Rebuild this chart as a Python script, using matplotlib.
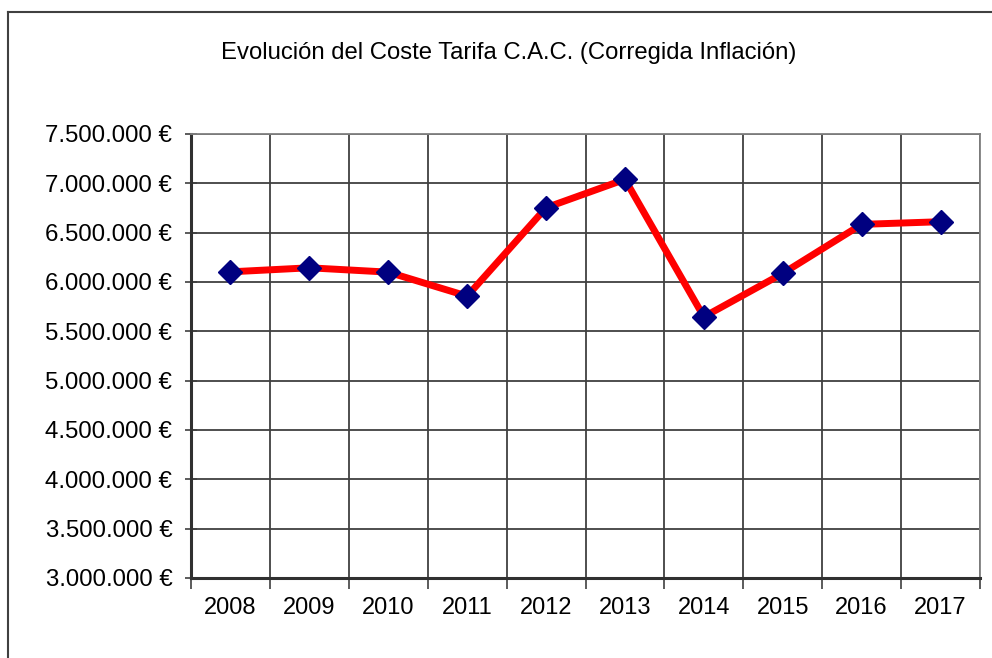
import matplotlib
matplotlib.use("Agg")
import matplotlib.pyplot as plt
from matplotlib.ticker import FuncFormatter, FixedLocator
from matplotlib.lines import Line2D

years = ["2008", "2009", "2010", "2011", "2012", "2013", "2014", "2015", "2016", "2017"]
costs = [6103000, 6144000, 6100000, 5857000, 6753000, 7040000, 5647000, 6087000, 6584000, 6611000]
title = "Evolución del Coste Tarifa C.A.C. (Corregida Inflación)"

plt.rcParams['font.family'] = ['Liberation Sans', 'DejaVu Sans']

fig = plt.figure(figsize=(9.92, 6.58), dpi=100)
ax = fig.add_axes([191/992, 1-578/658, (980-191)/992, (578-134)/658])

x = list(range(len(years)))
ax.plot(x, costs, color='#ff0000', linewidth=5, marker='D', markersize=12,
        markerfacecolor='#000080', markeredgecolor='#000080', zorder=3)

ax.set_xlim(-0.5, len(years) - 0.5)
ax.set_ylim(3000000, 7500000)
ax.set_yticks([3000000 + 500000 * i for i in range(10)])

def fmt(v, pos):
    return f"{int(v):,}".replace(",", ".") + " €"
ax.yaxis.set_major_formatter(FuncFormatter(fmt))

ax.set_xticks(x)
ax.set_xticklabels(years)
ax.xaxis.set_minor_locator(FixedLocator([i - 0.5 for i in range(len(years) + 1)]))
ax.tick_params(axis='x', which='major', length=0, pad=14, labelsize=17, colors='#000000')
ax.tick_params(axis='x', which='minor', length=8, width=1.2, color='#404040', direction='out')
ax.tick_params(axis='y', which='major', length=9, width=1.2, color='#404040', direction='inout',
               labelsize=17.3, pad=9)

ax.grid(True, which='minor', axis='x', color='#404040', linewidth=1.3)
ax.grid(True, which='major', axis='y', color='#404040', linewidth=1.3)
ax.set_axisbelow(True)

for s in ['top', 'right']:
    ax.spines[s].set_color('#808080')
    ax.spines[s].set_linewidth(1.3)
ax.spines['left'].set_color('#303030')
ax.spines['left'].set_linewidth(2.2)
ax.spines['bottom'].set_color('#303030')
ax.spines['bottom'].set_linewidth(2.2)

fig.text(509/992, 1-53/658, title, ha='center', va='center', fontsize=17.2, color='#000000')

# outer chart frame (left and top edges)
fig.add_artist(Line2D([8/992, 8/992], [0, 1-12/658], transform=fig.transFigure, color='#404040', linewidth=1.5))
fig.add_artist(Line2D([8/992, 1], [1-12/658, 1-12/658], transform=fig.transFigure, color='#404040', linewidth=1.5))

fig.savefig("out.png", dpi=100)
